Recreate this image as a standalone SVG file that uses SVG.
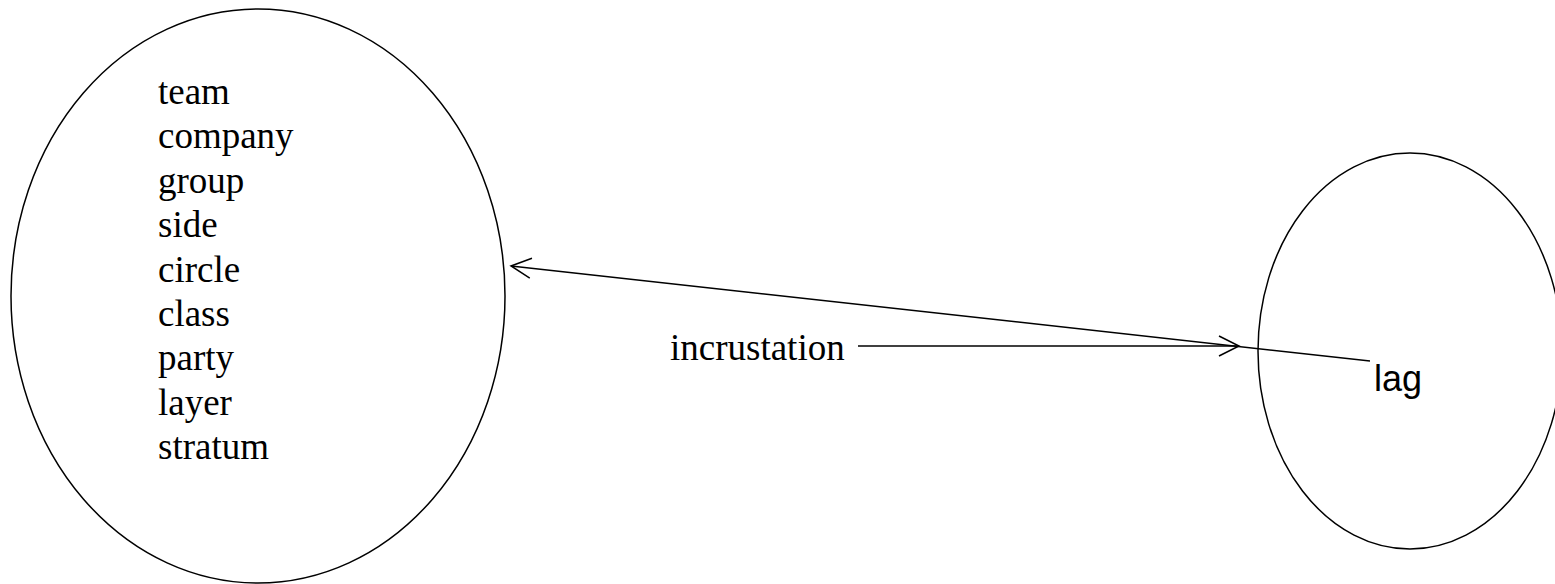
<svg xmlns="http://www.w3.org/2000/svg" width="1555" height="584" viewBox="0 0 1555 584">
<defs>
<style>
.shape{fill:none;stroke:#000;stroke-width:1.5}
.edge{fill:none;stroke:#000;stroke-width:1.5}
.serif{font-family:"Liberation Serif","Times New Roman",serif;font-size:37px;fill:#000}
.sans{font-family:"Liberation Sans",Arial,sans-serif;font-size:36px;fill:#000}
</style>
<marker id="open" markerWidth="24" markerHeight="24" refX="22" refY="12" orient="auto" markerUnits="userSpaceOnUse">
<path d="M2,2 L22,12 L2,22" fill="none" stroke="#000" stroke-width="1.5"/>
</marker>
</defs>
<rect width="1555" height="584" fill="#fff"/>
<g id="node-left">
<ellipse class="shape" cx="258" cy="296" rx="247" ry="287"/>
<text class="serif" x="158" y="104">team</text>
<text class="serif" x="158" y="148.4">company</text>
<text class="serif" x="158" y="192.8">group</text>
<text class="serif" x="158" y="237.2">side</text>
<text class="serif" x="158" y="281.6">circle</text>
<text class="serif" x="158" y="326">class</text>
<text class="serif" x="158" y="370.4">party</text>
<text class="serif" x="158" y="414.8">layer</text>
<text class="serif" x="158" y="459.2">stratum</text>
</g>
<g id="node-right">
<ellipse class="shape" cx="1410" cy="351" rx="152" ry="198"/>
<text class="sans" x="1374" y="391">lag</text>
</g>
<g id="node-label">
<text class="serif" x="670" y="360">incrustation</text>
</g>
<g id="connectors">
<line class="edge" x1="1370" y1="361" x2="511" y2="266" marker-end="url(#open)"/>
<line class="edge" x1="858" y1="346" x2="1239" y2="346" marker-end="url(#open)"/>
</g>
</svg>
